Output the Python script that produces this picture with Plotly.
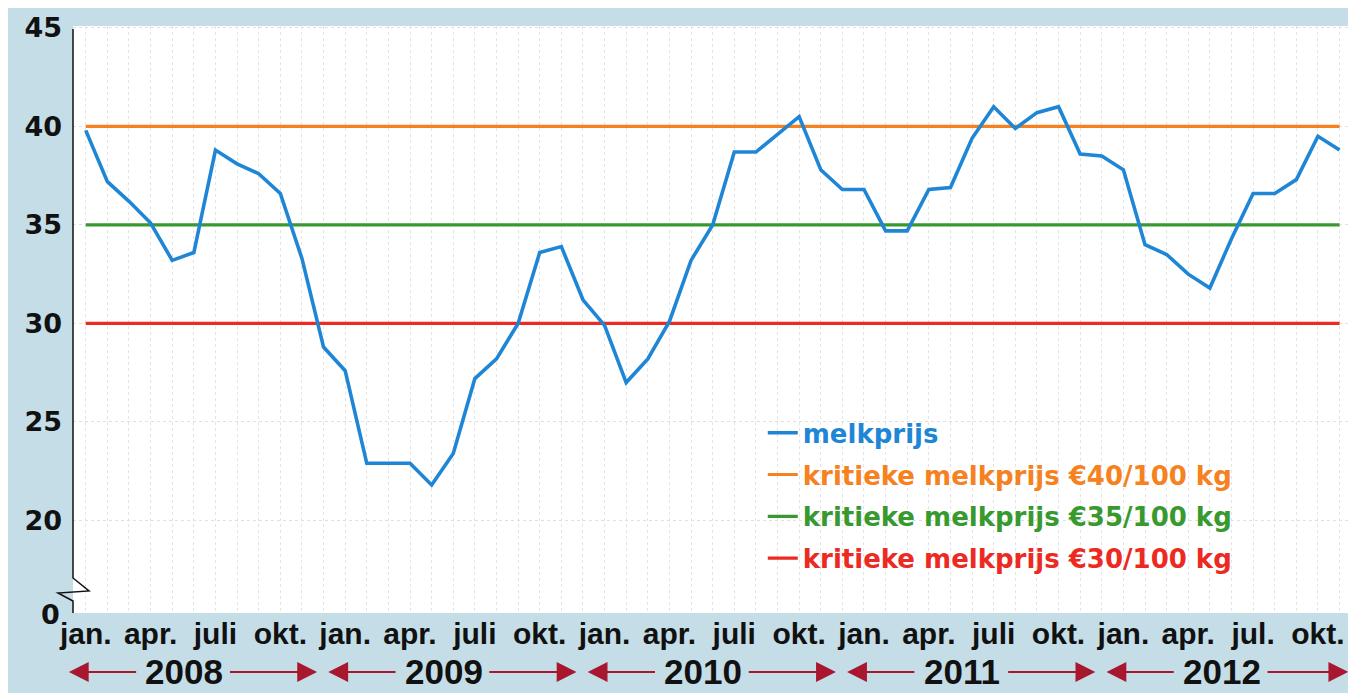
import plotly.graph_objects as go

# ---- data -------------------------------------------------------------
jaren = [2008, 2009, 2010, 2011, 2012]
maanden = [f"{j}-{m:02d}" for j in jaren for m in range(1, 13)][:59]  # jan 2008 .. nov 2012
x_idx = list(range(len(maanden)))

melkprijs = [
    39.8, 37.2, 36.2, 35.1, 33.2, 33.6, 38.8, 38.1, 37.6, 36.6, 33.3, 28.8,   # 2008
    27.6, 22.9, 22.9, 22.9, 21.8, 23.4, 27.2, 28.2, 30.0, 33.6, 33.9, 31.2,   # 2009
    29.9, 27.0, 28.2, 30.1, 33.2, 35.0, 38.7, 38.7, 39.6, 40.5, 37.8, 36.8,   # 2010
    36.8, 34.7, 34.7, 36.8, 36.9, 39.4, 41.0, 39.9, 40.7, 41.0, 38.6, 38.5,   # 2011
    37.8, 34.0, 33.5, 32.5, 31.8, 34.3, 36.6, 36.6, 37.3, 39.5, 38.8,         # 2012
]
kritiek_40 = [40] * len(maanden)
kritiek_35 = [35] * len(maanden)
kritiek_30 = [30] * len(maanden)

tick_pos = [0, 3, 6, 9, 12, 15, 18, 21, 24, 27, 30, 33, 36, 39, 42, 45, 48, 51, 54, 57]
tick_labels = ["jan.", "apr.", "juli", "okt."] * 4 + ["jan.", "apr.", "jul.", "okt."]
y_ticks = [20, 25, 30, 35, 40, 45]

# ---- style ------------------------------------------------------------
BG = "#c4dde7"
BLUE = "#1f86d6"
ORANGE = "#f5821f"
GREEN = "#38992f"
RED = "#ec2a22"
DARKRED = "#a8172e"
FONT = "Liberation Sans"
NARROW = "Liberation Sans Narrow, Liberation Sans"
WIDE = "DejaVu Sans"
INK = "#111111"

fig = go.Figure()

ref_series = [
    (kritiek_40, ORANGE, "kritieke melkprijs €40/100 kg", 2),
    (kritiek_35, GREEN, "kritieke melkprijs €35/100 kg", 3),
    (kritiek_30, RED, "kritieke melkprijs €30/100 kg", 4),
]
for vals, col, name, rank in ref_series:
    fig.add_trace(go.Scatter(
        x=x_idx, y=vals, mode="lines", line=dict(color=col, width=3.2),
        name=f"<span style='color:{col}'>{name}</span>",
        legendrank=rank, legendgroup=name, hoverinfo="skip",
    ))

fig.add_trace(go.Scatter(
    x=x_idx, y=melkprijs, mode="lines", line=dict(color=BLUE, width=3.6),
    name=f"<span style='color:{BLUE}'>melkprijs</span>",
    legendrank=1, legendgroup="melkprijs",
))

# ---- y axis line with break ------------------------------------------
fig.add_shape(
    type="path", xref="paper", yref="paper",
    path="M 0,0.995 L 0,0.0596 L 0.01255,0.0375 L -0.01176,0.0341 L 0,0.0204 L 0,0",
    line=dict(color=INK, width=1.5),
)

# "0" label under the break
fig.add_annotation(
    text="0", xref="paper", yref="paper", x=-0.0085, y=0, xanchor="right",
    yanchor="middle", yshift=-1, showarrow=False,
    font=dict(family=WIDE, size=27, color=INK, weight="bold"),
)

# ---- year labels with arrows -----------------------------------------
Y_YEAR = -0.1124
for k, jaar in enumerate(jaren):
    base = 12 * k
    fig.add_annotation(
        text=str(jaar), x=base + 4.55, xref="x", y=Y_YEAR, yref="paper",
        yanchor="middle", xanchor="center", yshift=7, showarrow=False,
        font=dict(family=FONT, size=35, color=INK, weight="bold"),
    )
    right_tip = base + 10.7 if k < 4 else base + 10.4
    for tail, tip in [(base + 2.4, base - 0.78), (base + 6.6, right_tip)]:
        fig.add_annotation(
            text="", x=tip, xref="x", y=Y_YEAR, yref="paper", yshift=7,
            ax=tail, axref="x", ay=0, ayref="pixel",
            showarrow=True, arrowhead=2, arrowsize=2.2, arrowwidth=1.8,
            arrowcolor=DARKRED, standoff=0, startstandoff=0,
        )

fig.update_layout(
    width=1356, height=693, autosize=False,
    paper_bgcolor=BG, plot_bgcolor="white",
    margin=dict(l=65, r=16, t=18, b=88),
    font=dict(family=FONT, color=INK),
    showlegend=True,
    legend=dict(
        x=0.541, y=0.347, xanchor="left", yanchor="top",
        bgcolor="rgba(0,0,0,0)", borderwidth=0,
        font=dict(family=WIDE, size=26, weight="bold"),
        itemwidth=30, tracegroupgap=5, traceorder="grouped",
    ),
    xaxis=dict(
        range=[-0.59, 58.39], tickmode="array", tickvals=tick_pos, ticktext=tick_labels,
        showgrid=False, zeroline=False, showline=False, ticks="", automargin=False,
        tickfont=dict(family=NARROW, size=30, color=INK, weight="bold"),
        ticklabelstandoff=0,
        minor=dict(tick0=0, dtick=1, showgrid=True, gridcolor="#e4e4e4",
                   griddash="dot", gridwidth=1),
    ),
    yaxis=dict(
        range=[15.3, 45.1], tickmode="array", tickvals=y_ticks,
        showgrid=True, gridcolor="#e0e0e0", griddash="dot", gridwidth=1,
        zeroline=False, showline=False, ticks="", automargin=False,
        tickfont=dict(family=WIDE, size=27, color=INK, weight="bold"),
        ticklabelstandoff=10,
    ),
)

fig.write_html("out.html")
